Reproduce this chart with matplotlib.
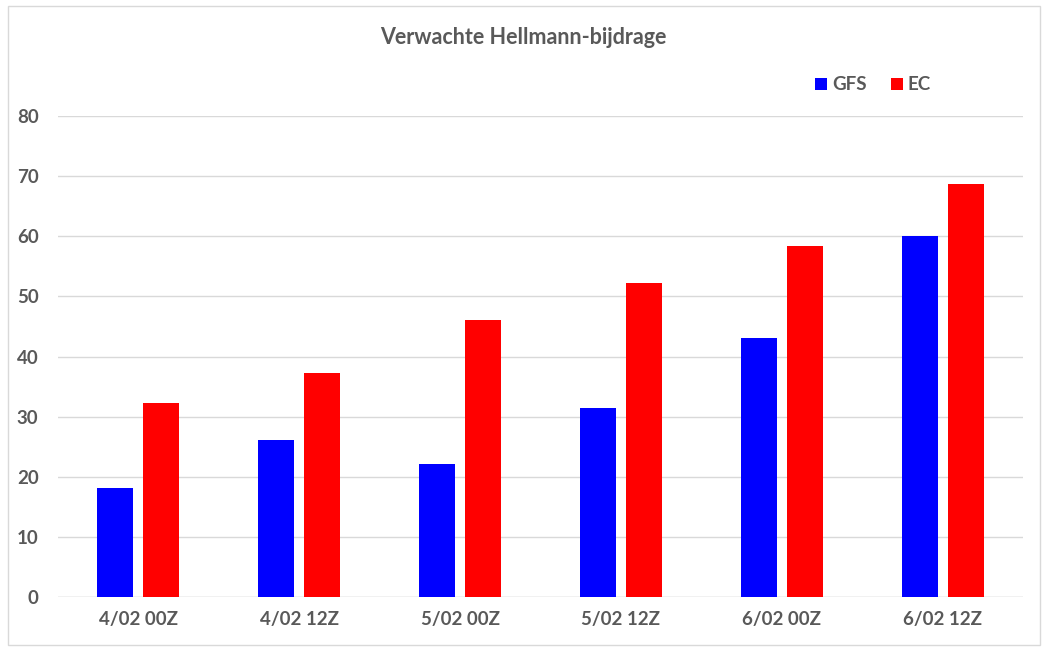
import matplotlib
matplotlib.use("Agg")
import matplotlib.pyplot as plt
import numpy as np
from matplotlib.patches import Rectangle

plt.rcParams['font.family'] = ['Lato', 'DejaVu Sans']

categories = ["4/02 00Z", "4/02 12Z", "5/02 00Z", "5/02 12Z", "6/02 00Z", "6/02 12Z"]
gfs = [18.1, 26.1, 22.1, 31.4, 43.1, 60.0]
ec = [32.3, 37.3, 46.1, 52.2, 58.4, 68.7]
yticks = [0, 10, 20, 30, 40, 50, 60, 70, 80]

W, H = 1047, 648
fig = plt.figure(figsize=(W / 100, H / 100), dpi=100)
fig.patch.set_facecolor("white")
fig.patches.append(Rectangle((8 / W, 3 / H), 1032 / W, 639 / H, transform=fig.transFigure,
                             fill=False, edgecolor="#d9d9d9", linewidth=1))

ax = fig.add_axes([58 / W, (H - 597) / H, 965 / W, 481 / H])
x = np.arange(len(categories))
width = 0.224
off = 0.143
ax.bar(x - off, gfs, width, color="#0000ff", label="GFS", zorder=3)
ax.bar(x + off, ec, width, color="#ff0000", label="EC", zorder=3)

ax.set_xlim(-0.5, len(categories) - 0.5)
ax.set_ylim(0, 80)
ax.set_yticks(yticks)
ax.yaxis.grid(True, color="#d9d9d9", linewidth=1, zorder=0)
for s in ax.spines.values():
    s.set_visible(False)
ax.axhline(0, color="#d9d9d9", linewidth=1, zorder=2)
ax.tick_params(length=0)
ax.tick_params(axis="y", pad=14)
ax.tick_params(axis="x", pad=10)
ax.set_xticks(x)
ax.set_xticklabels(categories)
for lab in ax.get_xticklabels() + ax.get_yticklabels():
    lab.set_fontsize(13.5)
    lab.set_fontweight("bold")
    lab.set_color("#595959")

fig.text(523 / W, 1 - 37 / H, "Verwachte Hellmann-bijdrage", ha="center", va="center",
         fontsize=15.5, fontweight="bold", color="#595959")

leg = ax.legend(loc="center", bbox_to_anchor=(873 / W, 1 - 85 / H), bbox_transform=fig.transFigure,
                ncol=2, frameon=False, handlelength=0.65, handleheight=0.65, handletextpad=0.25,
                columnspacing=1.3, borderaxespad=0, borderpad=0,
                prop={"size": 13.5, "weight": "bold"})
for t in leg.get_texts():
    t.set_color("#595959")

fig.savefig("out.png", dpi=100)
